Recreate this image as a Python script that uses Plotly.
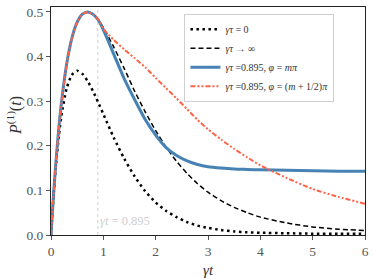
import plotly.graph_objects as go

# --- data ---
t = [0, 0.05, 0.1, 0.15, 0.2, 0.3, 0.4, 0.5, 0.6, 0.7, 0.8, 0.895, 1.0, 1.2, 1.4,
     1.6, 1.8, 2.0, 2.2, 2.4, 2.6, 2.8, 3.0, 3.25, 3.5, 3.75, 4.0, 4.5, 5.0, 5.5, 6.0]

p_tau0 = [0, 0.090, 0.164, 0.222, 0.268, 0.329, 0.359, 0.368, 0.361, 0.345, 0.323, 0.299,
          0.271, 0.218, 0.171, 0.131, 0.098, 0.073, 0.054, 0.040, 0.029, 0.021, 0.016,
          0.011, 0.008, 0.006, 0.005, 0.004, 0.003, 0.003, 0.003]

p_tauinf = [0, 0.093, 0.172, 0.240, 0.297, 0.384, 0.442, 0.477, 0.495, 0.500, 0.495, 0.483,
            0.465, 0.421, 0.373, 0.322, 0.276, 0.234, 0.197, 0.165, 0.138, 0.115, 0.096,
            0.077, 0.062, 0.050, 0.040, 0.027, 0.018, 0.013, 0.010]

p_m_pi = [0, 0.093, 0.172, 0.240, 0.297, 0.384, 0.442, 0.477, 0.495, 0.500, 0.495, 0.483,
          0.460, 0.405, 0.350, 0.303, 0.259, 0.224, 0.196, 0.178, 0.166, 0.158, 0.153,
          0.150, 0.148, 0.147, 0.146, 0.145, 0.144, 0.143, 0.143]

p_m_half_pi = [0, 0.093, 0.172, 0.240, 0.297, 0.384, 0.442, 0.477, 0.495, 0.500, 0.495, 0.484,
               0.462, 0.437, 0.416, 0.396, 0.376, 0.352, 0.329, 0.306, 0.282, 0.258, 0.237,
               0.214, 0.193, 0.174, 0.156, 0.128, 0.103, 0.085, 0.070]

gamma_tau = 0.895
label_y = 0.031

names = ["<i>γτ</i> = 0", "<i>γτ</i> → ∞",
         "<i>γτ</i> =0.895, <i>φ</i> = <i>mπ</i>",
         "<i>γτ</i> =0.895, <i>φ</i> = (<i>m</i> + 1/2)<i>π</i>"]

FONT = "Liberation Serif"

fig = go.Figure()

# vertical reference line
fig.add_trace(go.Scatter(x=[gamma_tau, gamma_tau], y=[0, 0.51], mode="lines",
                         line=dict(color="#cfcfcf", width=1, dash="dot"),
                         showlegend=False, hoverinfo="skip"))

fig.add_trace(go.Scatter(x=t, y=p_tau0, mode="lines", name=names[0],
                         line=dict(color="black", width=2.5, dash="2.5px,3.5px", shape="spline", smoothing=0.6)))
fig.add_trace(go.Scatter(x=t, y=p_tauinf, mode="lines", name=names[1],
                         line=dict(color="black", width=1.5, dash="5px,3px", shape="spline", smoothing=0.6)))
fig.add_trace(go.Scatter(x=t, y=p_m_pi, mode="lines", name=names[2],
                         line=dict(color="#4682b4", width=3, shape="spline", smoothing=0.7)))
fig.add_trace(go.Scatter(x=t, y=p_m_half_pi, mode="lines", name=names[3],
                         line=dict(color="#ff6347", width=2, dash="5px,2px,2px,2px,2px,2px",
                                   shape="spline", smoothing=0.5)))

fig.add_annotation(x=gamma_tau, y=label_y, xref="x", yref="y", text="<i>γt</i> = 0.895",
                   showarrow=False, xanchor="left", yanchor="middle",
                   font=dict(family=FONT, size=12.5, color="#d0d0d0"))

# axis titles
fig.add_annotation(x=0.5, y=-0.155, xref="paper", yref="paper", text="<i>γt</i>",
                   showarrow=False, xanchor="center", yanchor="middle",
                   font=dict(family=FONT, size=15, color="#333"))
fig.add_annotation(x=-0.114, y=0.523, xref="paper", yref="paper",
                   text="<i>P</i><sup>(1)</sup>(<i>t</i>)", textangle=-90,
                   showarrow=False, xanchor="center", yanchor="middle",
                   font=dict(family=FONT, size=16, color="#333"))

fig.update_layout(
    width=374, height=278,
    margin=dict(l=51, r=9, t=5, b=43),
    paper_bgcolor="white", plot_bgcolor="white",
    font=dict(family=FONT, size=12, color="#333"),
    legend=dict(x=0.425, y=0.97, xanchor="left", yanchor="top",
                bgcolor="rgba(255,255,255,0.9)", bordercolor="#d0d0d0", borderwidth=1,
                font=dict(family=FONT, size=10, color="#333"),
                tracegroupgap=0, itemwidth=30),
    xaxis=dict(range=[0, 6], tickvals=[0, 1, 2, 3, 4, 5, 6], showgrid=False, zeroline=False,
               showline=True, linecolor="#222", linewidth=1, mirror=True,
               ticks="outside", ticklen=4, tickcolor="#555",
               tickfont=dict(family=FONT, size=13.5, color="#555")),
    yaxis=dict(range=[0, 0.511], tickvals=[0, 0.1, 0.2, 0.3, 0.4, 0.5],
               ticktext=["0.0", "0.1", "0.2", "0.3", "0.4", "0.5"],
               showgrid=False, zeroline=False,
               showline=True, linecolor="#222", linewidth=1, mirror=True,
               ticks="outside", ticklen=4, tickcolor="#555",
               tickfont=dict(family=FONT, size=13.5, color="#555")),
)

fig.write_html("out.html", config={"displayModeBar": False},
               post_script="document.body.style.margin='0';")
